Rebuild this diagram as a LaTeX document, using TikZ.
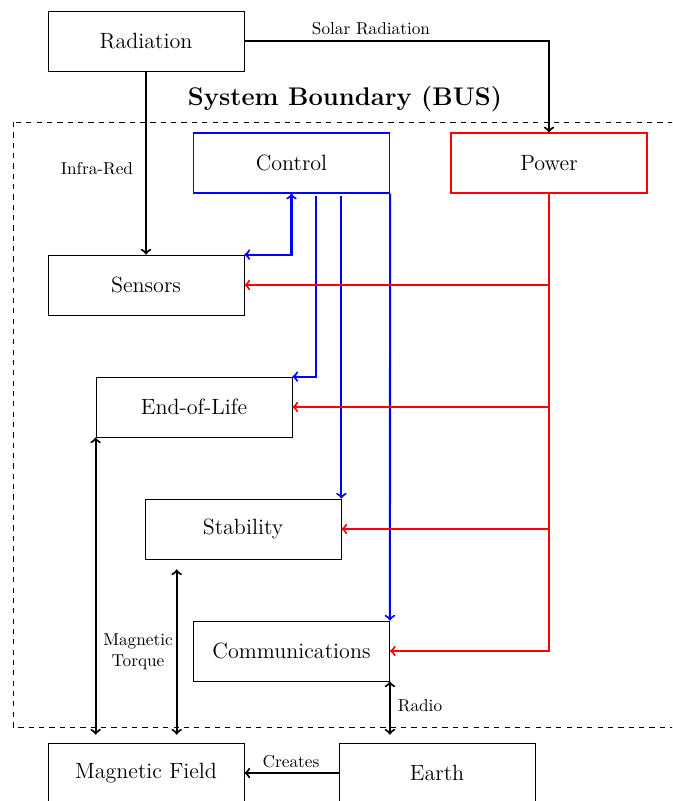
\documentclass[tikz,border=0pt]{standalone}
\usetikzlibrary{calc}
\begin{document}
\begin{tikzpicture}[x=0.58pt, y=-0.58pt,
  block/.style={draw, line width=0.45pt, minimum width=113.7pt, minimum height=34.8pt, inner sep=0pt,
    font=\fontsize{12.8}{15}\selectfont},
  hued/.style={line width=0.7pt},
  conn/.style={line width=1.2pt},
  lbl/.style={font=\normalsize, inner sep=1pt}]
\useasboundingbox (0,0) rectangle (672,801);
\clip (0,0) rectangle (672,801);

% system boundary
\draw[dashed, line width=0.45pt] (13,122) rectangle (700,727);
\node[font=\fontsize{14.8}{17}\selectfont\bfseries] (title) at (345,99) {System Boundary (BUS)};

% blocks
\node[block] (rad) at (146,41) {Radiation};
\node[block, hued, draw=blue] (ctl) at (291.5,163) {Control};
\node[block, hued, draw=red] (pow) at (549,163) {Power};
\node[block] (sen) at (146,285) {Sensors};
\node[block] (eol) at (194,407) {End-of-Life};
\node[block] (stab) at (243,529) {Stability};
\node[block] (com) at (291.5,651) {Communications};
\node[block] (mag) at (146,773) {Magnetic Field};
\node[block] (ear) at (437,773) {Earth};

% external inputs
\draw[conn,->] (rad.east) -| (pow.north);
\node[lbl] (solar) at (371,29) {Solar Radiation};
\draw[conn,->] (rad.south) -- (sen.north);
\node[lbl] (ir) at (97,169) {Infra-Red};

% control lines
\draw[conn,blue,<->] (sen.north east) -| (ctl.south);
\coordinate (c1) at ([xshift=14.2pt,yshift=-1.2pt]ctl.south);
\draw[conn,blue,->] (c1) |- (eol.north east);
\coordinate (c2) at (stab.north east |- c1);
\draw[conn,blue,->] (c2) -- (stab.north east);
\draw[conn,blue,->] (ctl.south east) -- (com.north east);

% power distribution
\draw[conn,red,->] (pow.south) |- (sen.east);
\draw[conn,red,->] (pow.south) |- (eol.east);
\draw[conn,red,->] (pow.south) |- (stab.east);
\draw[conn,red,->] (pow.south) |- (com.east);

% links to the environment
\draw[conn,<->,shorten >=4.6pt] (eol.south west) -- (eol.south west |- mag.north);
\coordinate (s1) at ([xshift=18.6pt]stab.south west);
\draw[conn,<->,shorten <=5.8pt,shorten >=4.6pt] (s1) -- (s1 |- mag.north);
\node[lbl, align=center] (torque) at (138,652) {Magnetic\\Torque};
\draw[conn,<->,shorten >=4.6pt] (com.south east) -- (com.south east |- ear.north);
\node[lbl] (radio) at (420,706) {Radio};
\draw[conn,->] (ear.west) -- (mag.east);
\node[lbl] (creates) at (291,762) {Creates};
\end{tikzpicture}
\end{document}
